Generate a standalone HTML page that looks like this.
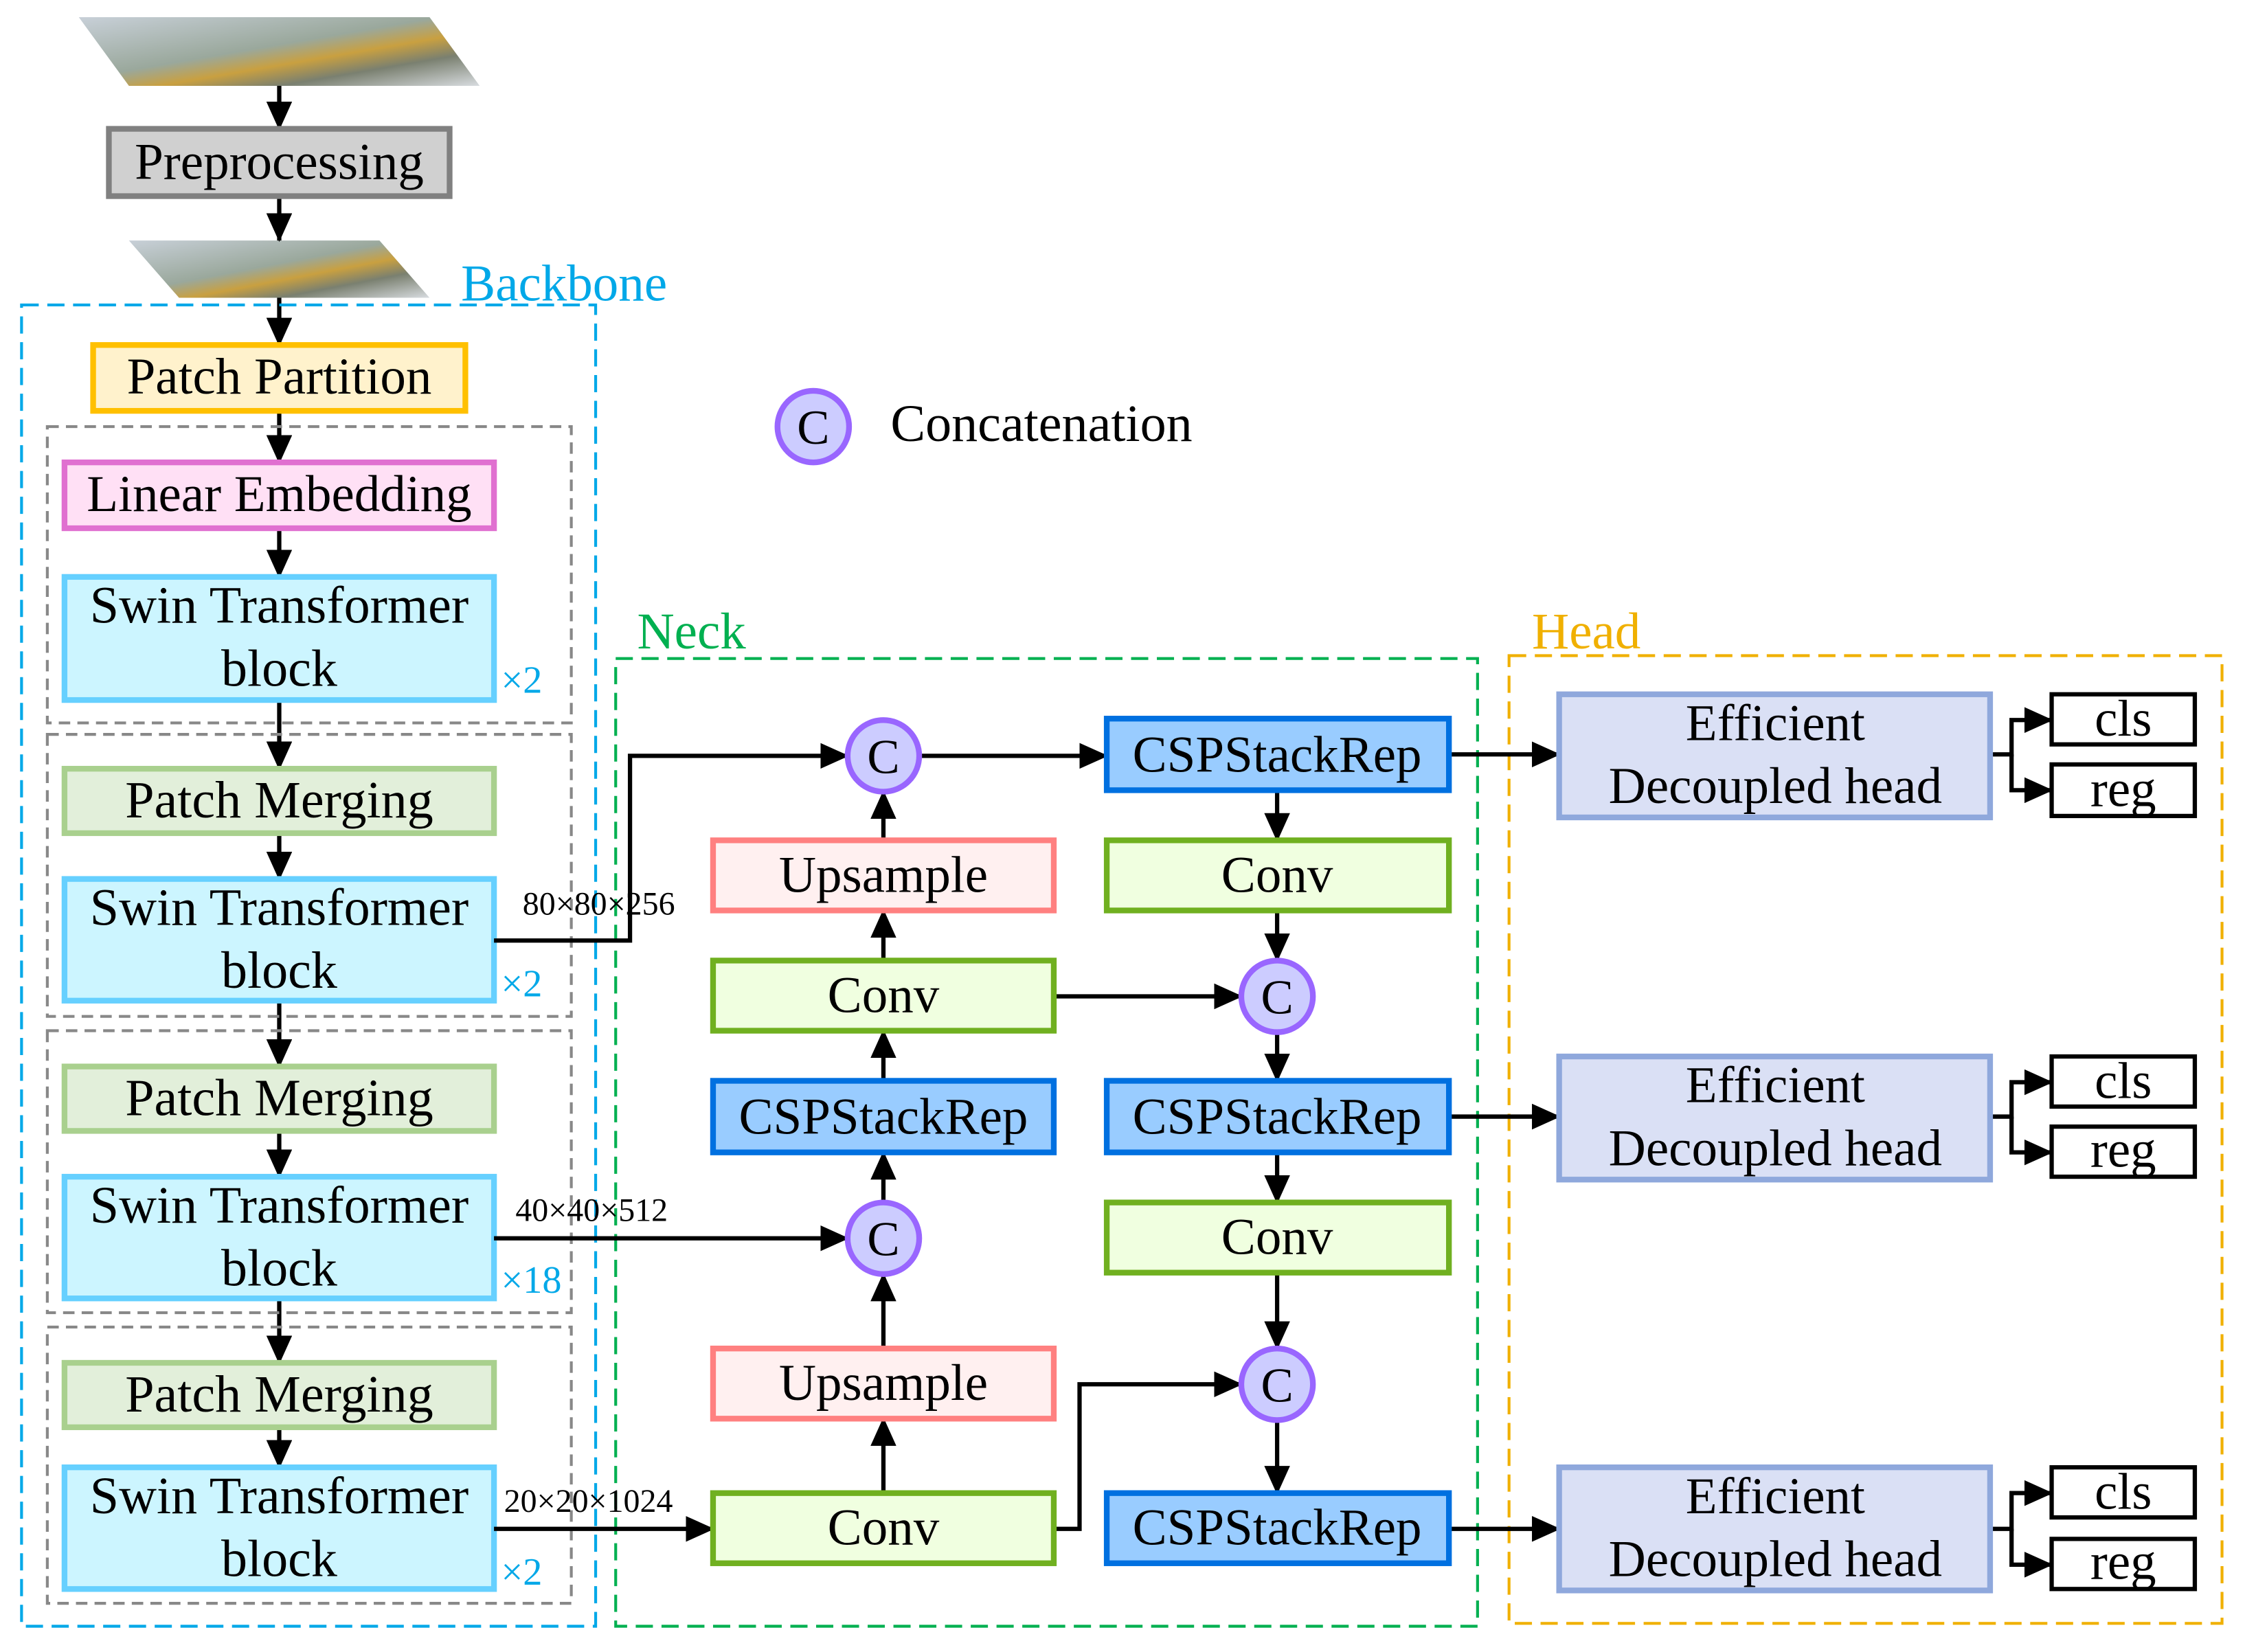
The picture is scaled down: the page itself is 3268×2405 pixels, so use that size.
<!DOCTYPE html>
<html><head><meta charset="utf-8"><style>html,body{margin:0;padding:0;background:#fff}svg{display:block}</style></head><body>
<svg width="3268" height="2405" viewBox="0 0 1568 1154" xmlns="http://www.w3.org/2000/svg" font-family="'Liberation Serif',serif">
<defs>
<marker id="b" markerWidth="20" markerHeight="18" refX="19" refY="9" orient="auto" markerUnits="userSpaceOnUse"><path d="M0,0 L20,9 L0,18z" fill="#000"/></marker>
<linearGradient id="img" x1="0" y1="0" x2="1" y2="1"><stop offset="0" stop-color="#c8d0d8"/><stop offset="0.45" stop-color="#9aa89c"/><stop offset="0.6" stop-color="#c9a040"/><stop offset="0.75" stop-color="#7a8070"/><stop offset="1" stop-color="#d8dce0"/></linearGradient>
</defs>
<polygon points="55,12 300,12 335,60 90,60" fill="url(#img)"/>
<polygon points="90,168 265,168 300,208 125,208" fill="url(#img)"/>
<g stroke="#000" stroke-width="3" fill="none" marker-end="url(#b)">
<line x1="195" y1="60" x2="195" y2="90"/>
<line x1="195" y1="137" x2="195" y2="168"/>
<line x1="195" y1="208" x2="195" y2="241"/>
<line x1="195" y1="287" x2="195" y2="323"/>
<line x1="195" y1="369" x2="195" y2="403"/>
<line x1="195" y1="489" x2="195" y2="537"/>
<line x1="195" y1="582" x2="195" y2="614"/>
<line x1="195" y1="699" x2="195" y2="745"/>
<line x1="195" y1="790" x2="195" y2="822"/>
<line x1="195" y1="907" x2="195" y2="952"/>
<line x1="195" y1="997" x2="195" y2="1025"/>
</g>
<rect x="76" y="90" width="238" height="47" fill="#d0d0d0" stroke="#808080" stroke-width="4"/>
<text x="195" y="125" font-size="36" text-anchor="middle">Preprocessing</text>
<text x="322" y="210" font-size="36" fill="#00a8e8">Backbone</text>
<rect x="15" y="213" width="401" height="923" fill="none" stroke="#00a8e8" stroke-width="2" stroke-dasharray="12,6"/>
<rect x="65" y="241" width="260" height="46" fill="#fff2cc" stroke="#ffc000" stroke-width="4"/>
<text x="195" y="275" font-size="36" text-anchor="middle">Patch Partition</text>
<g fill="none" stroke="#888" stroke-width="2" stroke-dasharray="8,5">
<rect x="33" y="298" width="366" height="207"/><rect x="33" y="513" width="366" height="197"/>
<rect x="33" y="720" width="366" height="197"/><rect x="33" y="927" width="366" height="193"/>
</g>
<rect x="45" y="323" width="300" height="46" fill="#ffe0f5" stroke="#e070d0" stroke-width="4"/>
<text x="195" y="357" font-size="36" text-anchor="middle">Linear Embedding</text>
<g fill="#ccf5ff" stroke="#66d0ff" stroke-width="4">
<rect x="45" y="403" width="300" height="86"/><rect x="45" y="614" width="300" height="85"/>
<rect x="45" y="822" width="300" height="85"/><rect x="45" y="1025" width="300" height="85"/>
</g>
<g fill="#e2efda" stroke="#a9d08e" stroke-width="4">
<rect x="45" y="537" width="300" height="45"/><rect x="45" y="745" width="300" height="45"/><rect x="45" y="952" width="300" height="45"/>
</g>
<g font-size="36.5" text-anchor="middle">
<text x="195" y="435">Swin Transformer</text><text x="195" y="479">block</text>
<text x="195" y="646">Swin Transformer</text><text x="195" y="690">block</text>
<text x="195" y="854">Swin Transformer</text><text x="195" y="898">block</text>
<text x="195" y="1057">Swin Transformer</text><text x="195" y="1101">block</text>
<text x="195" y="571">Patch Merging</text><text x="195" y="779">Patch Merging</text><text x="195" y="986">Patch Merging</text>
</g>
<g font-size="27" fill="#00a8e8">
<text x="350" y="484">×2</text><text x="350" y="696">×2</text><text x="350" y="903">×18</text><text x="350" y="1107">×2</text>
</g>
<circle cx="568" cy="298" r="25" fill="#ccccff" stroke="#9966ff" stroke-width="4"/>
<text x="568" y="310" font-size="34" text-anchor="middle">C</text>
<text x="622" y="308" font-size="36.5">Concatenation</text>
<text x="445" y="453" font-size="36" fill="#00b050">Neck</text>
<rect x="430" y="460" width="602" height="676" fill="none" stroke="#00b050" stroke-width="2" stroke-dasharray="12,6"/>
<text x="1070" y="453" font-size="36" fill="#f0b000">Head</text>
<rect x="1054" y="458" width="498" height="676" fill="none" stroke="#f0b000" stroke-width="2" stroke-dasharray="12,6"/>
<g stroke="#000" stroke-width="3" fill="none" marker-end="url(#b)">
<polyline points="345,657 440,657 440,528 592,528"/>
<line x1="345" y1="865" x2="592" y2="865"/>
<line x1="345" y1="1068" x2="498" y2="1068"/>
<line x1="617" y1="1043" x2="617" y2="991"/>
<line x1="617" y1="942" x2="617" y2="890"/>
<line x1="617" y1="840" x2="617" y2="805"/>
<line x1="617" y1="755" x2="617" y2="720"/>
<line x1="617" y1="671" x2="617" y2="636"/>
<line x1="617" y1="587" x2="617" y2="553"/>
<line x1="642" y1="528" x2="773" y2="528"/>
<line x1="892" y1="552" x2="892" y2="587"/>
<line x1="892" y1="636" x2="892" y2="671"/>
<line x1="736" y1="696" x2="867" y2="696"/>
<line x1="892" y1="721" x2="892" y2="755"/>
<line x1="892" y1="805" x2="892" y2="840"/>
<line x1="892" y1="889" x2="892" y2="942"/>
<line x1="892" y1="992" x2="892" y2="1043"/>
<polyline points="736,1068 754,1068 754,967 867,967"/>
<line x1="1012" y1="527" x2="1089" y2="527"/>
<line x1="1012" y1="780" x2="1089" y2="780"/>
<line x1="1012" y1="1068" x2="1089" y2="1068"/>
<polyline points="1390,527 1405,527 1405,503 1433,503"/>
<polyline points="1405,527 1405,552 1433,552"/>
<polyline points="1390,780 1405,780 1405,756 1433,756"/>
<polyline points="1405,780 1405,805 1433,805"/>
<polyline points="1390,1068 1405,1068 1405,1043 1433,1043"/>
<polyline points="1405,1068 1405,1093 1433,1093"/>
</g>
<g font-size="23">
<text x="365" y="639">80×80×256</text><text x="360" y="853">40×40×512</text><text x="352" y="1056">20×20×1024</text>
</g>
<g fill="#fff0f0" stroke="#ff8080" stroke-width="4"><rect x="498" y="587" width="238" height="49"/><rect x="498" y="942" width="238" height="49"/></g>
<g fill="#f0ffe0" stroke="#70b020" stroke-width="4"><rect x="498" y="671" width="238" height="49"/><rect x="498" y="1043" width="238" height="49"/><rect x="773" y="587" width="239" height="49"/><rect x="773" y="840" width="239" height="49"/></g>
<g fill="#99ccff" stroke="#0070e0" stroke-width="4"><rect x="498" y="755" width="238" height="50"/><rect x="773" y="502" width="239" height="50"/><rect x="773" y="755" width="239" height="50"/><rect x="773" y="1043" width="239" height="49"/></g>
<g font-size="36" text-anchor="middle">
<text x="617" y="623">Upsample</text><text x="617" y="978">Upsample</text>
<text x="617" y="707">Conv</text><text x="617" y="1079">Conv</text><text x="892" y="623">Conv</text><text x="892" y="876">Conv</text>
<text x="617" y="792">CSPStackRep</text><text x="892" y="539">CSPStackRep</text><text x="892" y="792">CSPStackRep</text><text x="892" y="1079">CSPStackRep</text>
</g>
<g fill="#ccccff" stroke="#9966ff" stroke-width="4">
<circle cx="617" cy="528" r="25"/><circle cx="617" cy="865" r="25"/><circle cx="892" cy="696" r="25"/><circle cx="892" cy="967" r="25"/>
</g>
<g font-size="34" text-anchor="middle">
<text x="617" y="540">C</text><text x="617" y="877">C</text><text x="892" y="708">C</text><text x="892" y="979">C</text>
</g>
<g fill="#dae0f5" stroke="#8fa8dc" stroke-width="4">
<rect x="1089" y="485" width="301" height="86"/><rect x="1089" y="738" width="301" height="86"/><rect x="1089" y="1025" width="301" height="86"/>
</g>
<g fill="#fff" stroke="#000" stroke-width="3">
<rect x="1433" y="485" width="100" height="35"/><rect x="1433" y="534" width="100" height="36"/>
<rect x="1433" y="738" width="100" height="35"/><rect x="1433" y="787" width="100" height="35"/>
<rect x="1433" y="1025" width="100" height="35"/><rect x="1433" y="1075" width="100" height="35"/>
</g>
<g font-size="36" text-anchor="middle">
<text x="1240" y="517">Efficient</text><text x="1240" y="561">Decoupled head</text>
<text x="1240" y="770">Efficient</text><text x="1240" y="814">Decoupled head</text>
<text x="1240" y="1057">Efficient</text><text x="1240" y="1101">Decoupled head</text>
<text x="1483" y="514">cls</text><text x="1483" y="563">reg</text>
<text x="1483" y="767">cls</text><text x="1483" y="815">reg</text>
<text x="1483" y="1054">cls</text><text x="1483" y="1103">reg</text>
</g>
</svg>
</body></html>
